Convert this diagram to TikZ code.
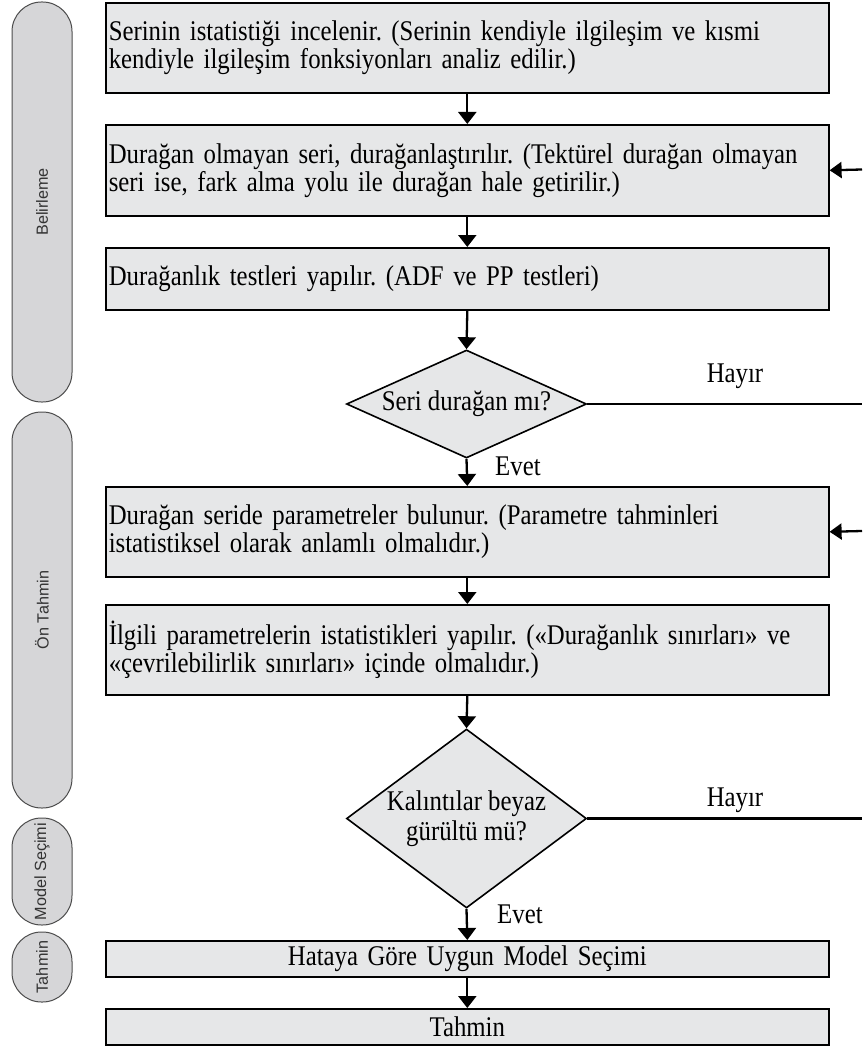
\documentclass[tikz,border=0pt]{standalone}
\usepackage{fontspec}
\setmainfont{Liberation Serif}[FakeStretch=0.87]
\newfontfamily\pillfont{Liberation Sans}
\usetikzlibrary{shapes.geometric,arrows.meta}
\definecolor{boxfill}{HTML}{E6E7E8}
\definecolor{pillfill}{HTML}{D6D6D8}
\definecolor{pillline}{HTML}{4D4D4D}
\begin{document}
\frenchspacing
\begin{tikzpicture}[x=1pt,y=-1pt,
  stepbox/.style={draw=black, line width=1.6pt, fill=boxfill, anchor=north west,
    minimum width=723pt, text width=717pt, inner xsep=3pt, inner ysep=0pt,
    align=left, font=\fontsize{28.5}{28}\selectfont},
  centerbox/.style={stepbox, align=center},
  decision/.style={shape=diamond, draw=black, line width=1.6pt, fill=boxfill,
    inner sep=0pt, align=center, font=\fontsize{28.5}{30}\selectfont},
  pill/.style={draw=pillline, line width=1pt, fill=pillfill, rounded corners=29.5pt,
    rotate=90, minimum height=60pt, inner sep=0pt, font=\pillfont\fontsize{16.2}{18}\selectfont, text=black!80},
  conn/.style={line width=2.3pt, -{Triangle[width=18pt,length=12pt]}},
  back/.style={line width=2.3pt, -{Triangle[width=16pt,length=12pt]}},
  plain/.style={line width=2.3pt},
  lbl/.style={font=\fontsize{28.5}{28}\selectfont, inner sep=0pt}
]
\useasboundingbox (0,0) rectangle (862,1046);

% phase pills
\node[pill, minimum width=400pt] (p1) at (42,202) {Belirleme};
\node[pill, minimum width=396pt] (p2) at (42,610) {Ön Tahmin};
\node[pill, minimum width=107pt] (p3) at (42,871.5) {Model Seçimi};
\node[pill, minimum width=70pt] (p4) at (42,967) {Tahmin};

% steps
\node[stepbox, minimum height=90pt] (b1) at (105,2)
  {Serinin istatistiği incelenir. (Serinin kendiyle ilgileşim ve kısmi\\kendiyle ilgileşim fonksiyonları analiz edilir.)};
\node[stepbox, minimum height=91pt] (b2) at (105,124)
  {Durağan olmayan seri, durağanlaştırılır. (Tektürel durağan olmayan\\seri ise, fark alma yolu ile durağan hale getirilir.)};
\node[stepbox, minimum height=62pt] (b3) at (105,247)
  {Durağanlık testleri yapılır. (ADF ve PP testleri)};
\node[decision, minimum width=240pt, minimum height=108pt, aspect=2.22] (d1) at (466.5,404)
  {Seri durağan mı?};
\node[stepbox, minimum height=90pt] (b4) at (105,486)
  {Durağan seride parametreler bulunur. (Parametre tahminleri\\istatistiksel olarak anlamlı olmalıdır.)};
\node[stepbox, minimum height=90pt] (b5) at (105,604)
  {İlgili parametrelerin istatistikleri yapılır. («Durağanlık sınırları» ve\\«çevrilebilirlik sınırları» içinde olmalıdır.)};
\node[decision, minimum width=240pt, minimum height=179pt, aspect=1.34] (d2) at (466.5,818.5)
  {Kalıntılar beyaz\\gürültü mü?};
\node[centerbox, minimum height=36pt] (b6) at (105,940)
  {Hataya Göre Uygun Model Seçimi};
\node[centerbox, minimum height=36pt] (b7) at (105,1008)
  {Tahmin};

% right edge points
\coordinate (h1) at (862,404);
\coordinate (h2) at (862,818.5);
\coordinate (r2) at (862,169.5);
\coordinate (r4) at (862,531);

% connectors
\draw[conn] (b1.south) -- (b2.north);
\draw[conn] (b2.south) -- (b3.north);
\draw[conn] (b3.south) -- (d1.north);
\draw[conn] (d1.south) -- (b4.north);
\draw[conn] (b4.south) -- (b5.north);
\draw[conn] (b5.south) -- (d2.north);
\draw[conn] (d2.south) -- (b6.north);
\draw[conn] (b6.south) -- (b7.north);
\draw[plain] (d1.east) -- (h1);
\draw[plain] (d2.east) -- (h2);
\draw[back] (r2) -- (b2.east);
\draw[back] (r4) -- (b4.east);

% labels
\node[lbl] (hay1) at (735,376) {Hayır};
\node[lbl] (hay2) at (735,800) {Hayır};
\node[lbl, anchor=west] (ev1) at (495,466) {Evet};
\node[lbl, anchor=west] (ev2) at (497,914) {Evet};
\end{tikzpicture}
\end{document}
